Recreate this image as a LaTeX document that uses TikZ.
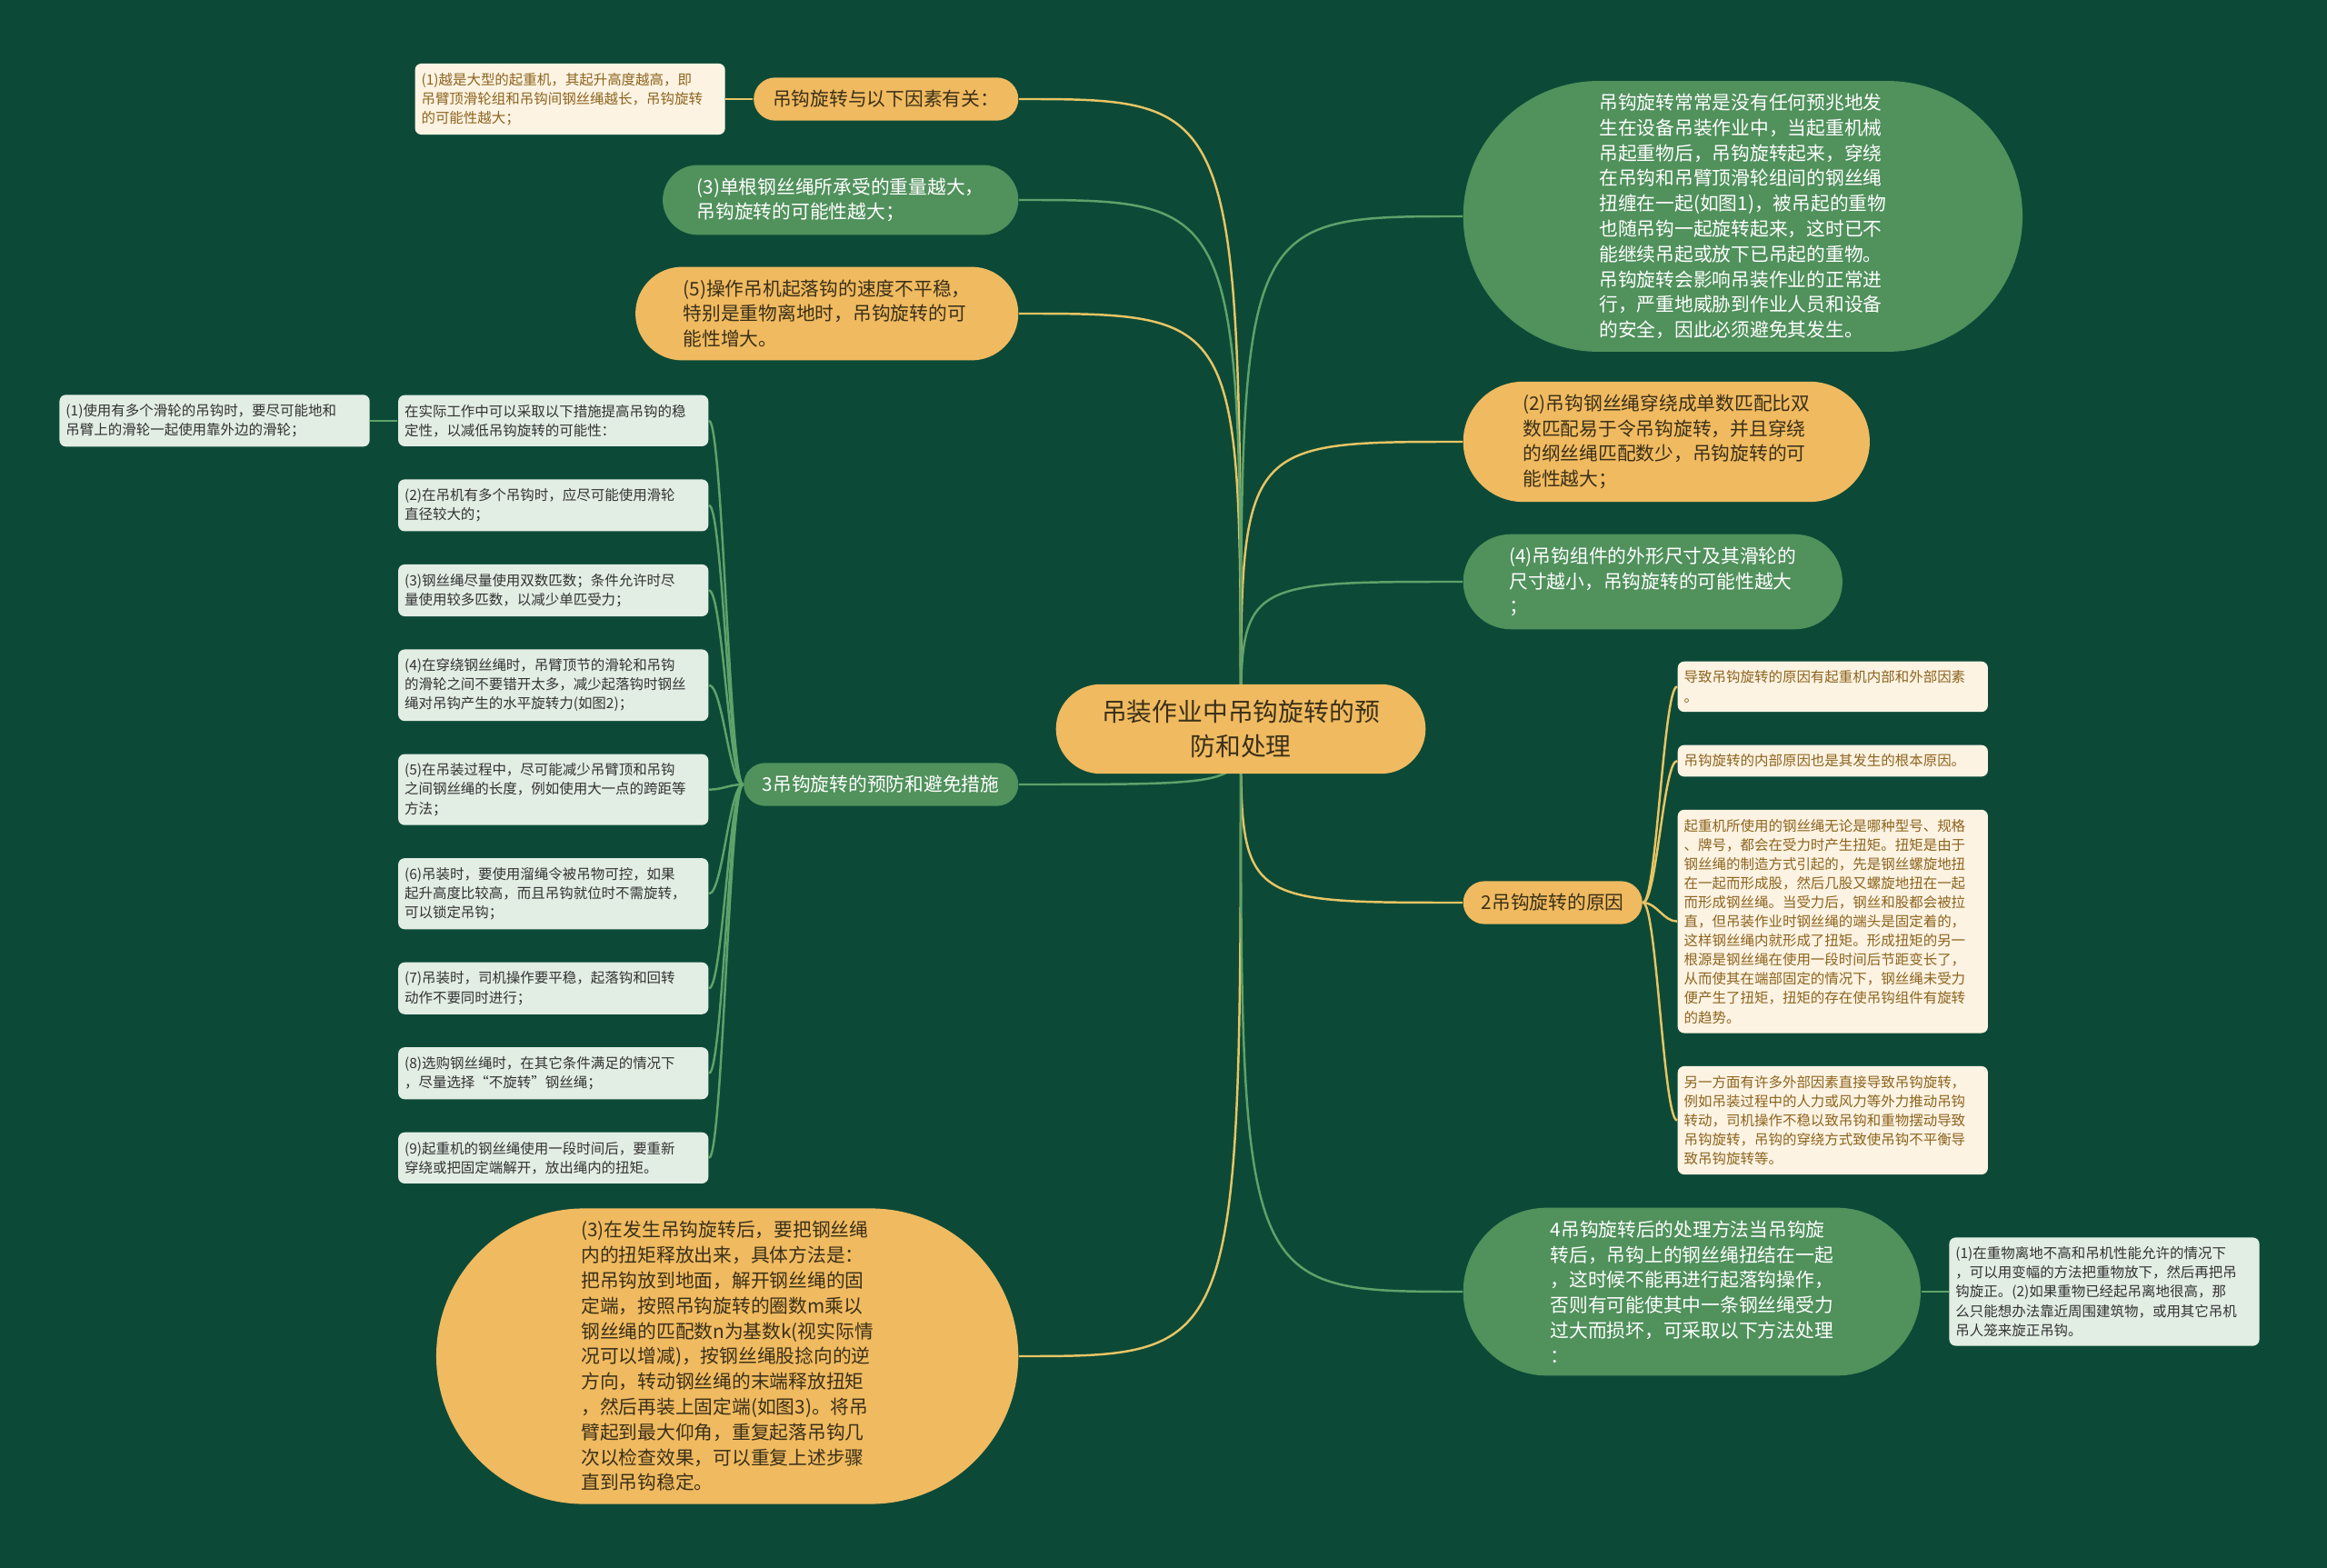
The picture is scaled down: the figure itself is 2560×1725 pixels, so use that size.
\documentclass[tikz,border=0pt]{standalone}
\usepackage{fontspec}
\newfontfamily\cjk{Noto Sans CJK SC}
\usepackage{tikz}
\usetikzlibrary{calc,positioning,shapes.misc,backgrounds}
\definecolor{bgdark}{HTML}{0C4A37}
\definecolor{topicorange}{HTML}{F0BA60}
\definecolor{topicgreen}{HTML}{50915C}
\definecolor{notecream}{HTML}{FDF3E3}
\definecolor{notebrown}{HTML}{8C641E}
\definecolor{notegreen}{HTML}{E2EDE4}
\definecolor{orangeline}{HTML}{E8C464}
\definecolor{greenline}{HTML}{5FA26A}
\definecolor{darktext}{HTML}{3A3018}
\tikzset{
  pill/.style={rounded rectangle, align=left, inner xsep=1pt, inner ysep=4pt,
    font=\cjk\fontsize{5.9pt}{7.9pt}\selectfont},
  opill/.style={pill, fill=topicorange, text=darktext},
  gpill/.style={pill, fill=topicgreen, text=white},
  rootpill/.style={rounded rectangle, fill=topicorange, text=darktext, align=center,
    minimum width=4.24cm, inner xsep=2.5pt, inner ysep=5pt,
    font=\cjk\fontsize{7.9pt}{10.7pt}\selectfont},
  note/.style={rounded corners=2pt, align=left, text width=3.27cm, inner xsep=0.07cm,
    inner ysep=2.9pt, font=\cjk\fontsize{4.4pt}{6pt}\selectfont},
  cnote/.style={note, fill=notecream, text=notebrown},
  gnote/.style={note, fill=notegreen, text=black!80},
  oarr/.style={draw=orangeline, line width=0.7pt},
  garr/.style={draw=greenline, line width=0.7pt}
}
\begin{document}
\begin{tikzpicture}[x=0.01cm, y=-0.01cm, node distance=0.35cm and 0.3cm]
  \useasboundingbox (0,0) rectangle (2560,1725);
  \node[rootpill] (root) at (1365,802) {吊装作业中吊钩旋转的预\\防和处理};

  \node[opill, anchor=east, minimum width=2.98cm] (cause) at (1121,109) {吊钩旋转与以下因素有关：};
  \node[cnote, left=of cause] (bigcrane) {(1)越是大型的起重机，其起升高度越高，即\\吊臂顶滑轮组和吊钩间钢丝绳越长，吊钩旋转\\的可能性越大；};
  \node[gpill, anchor=east, minimum width=3.98cm] (weight) at (1121,220) {(3)单根钢丝绳所承受的重量越大，\\吊钩旋转的可能性越大；};
  \node[opill, anchor=east, minimum width=4.28cm] (speed) at (1121,345) {(5)操作吊机起落钩的速度不平稳，\\特别是重物离地时，吊钩旋转的可\\能性增大。};
  \node[gpill, anchor=east, minimum width=3.09cm] (prevent) at (1121,863) {3吊钩旋转的预防和避免措施};

  \node[gnote, anchor=north east] (way) at (780,434) {在实际工作中可以采取以下措施提高吊钩的稳\\定性，以减低吊钩旋转的可能性：};
  \node[gnote, left=of way] (way1) {(1)使用有多个滑轮的吊钩时，要尽可能地和\\吊臂上的滑轮一起使用靠外边的滑轮；};
  \node[gnote, below=of way] (way2) {(2)在吊机有多个吊钩时，应尽可能使用滑轮\\直径较大的；};
  \node[gnote, below=of way2] (way3) {(3)钢丝绳尽量使用双数匹数；条件允许时尽\\量使用较多匹数，以减少单匹受力；};
  \node[gnote, below=of way3] (way4) {(4)在穿绕钢丝绳时，吊臂顶节的滑轮和吊钩\\的滑轮之间不要错开太多，减少起落钩时钢丝\\绳对吊钩产生的水平旋转力(如图2)；};
  \node[gnote, below=of way4] (way5) {(5)在吊装过程中，尽可能减少吊臂顶和吊钩\\之间钢丝绳的长度，例如使用大一点的跨距等\\方法；};
  \node[gnote, below=of way5] (way6) {(6)吊装时，要使用溜绳令被吊物可控，如果\\起升高度比较高，而且吊钩就位时不需旋转，\\可以锁定吊钩；};
  \node[gnote, below=of way6] (way7) {(7)吊装时，司机操作要平稳，起落钩和回转\\动作不要同时进行；};
  \node[gnote, below=of way7] (way8) {(8)选购钢丝绳时，在其它条件满足的情况下\\，尽量选择“不旋转”钢丝绳；};
  \node[gnote, below=of way8] (way9) {(9)起重机的钢丝绳使用一段时间后，要重新\\穿绕或把固定端解开，放出绳内的扭矩。};

  \node[opill, anchor=east, minimum width=6.47cm] (release) at (1121,1492) {(3)在发生吊钩旋转后，要把钢丝绳\\内的扭矩释放出来，具体方法是：\\把吊钩放到地面，解开钢丝绳的固\\定端，按照吊钩旋转的圈数m乘以\\钢丝绳的匹配数n为基数k(视实际情\\况可以增减)，按钢丝绳股捻向的逆\\方向，转动钢丝绳的末端释放扭矩\\，然后再装上固定端(如图3)。将吊\\臂起到最大仰角，重复起落吊钩几\\次以检查效果，可以重复上述步骤\\直到吊钩稳定。};

  \node[gpill, anchor=west, minimum width=6.22cm] (intro) at (1609,238) {吊钩旋转常常是没有任何预兆地发\\生在设备吊装作业中，当起重机械\\吊起重物后，吊钩旋转起来，穿绕\\在吊钩和吊臂顶滑轮组间的钢丝绳\\扭缠在一起(如图1)，被吊起的重物\\也随吊钩一起旋转起来，这时已不\\能继续吊起或放下已吊起的重物。\\吊钩旋转会影响吊装作业的正常进\\行，严重地威胁到作业人员和设备\\的安全，因此必须避免其发生。};
  \node[opill, anchor=west, minimum width=4.54cm] (oddfall) at (1609,486) {(2)吊钩钢丝绳穿绕成单数匹配比双\\数匹配易于令吊钩旋转，并且穿绕\\的纲丝绳匹配数少，吊钩旋转的可\\能性越大；};
  \node[gpill, anchor=west, minimum width=4.24cm] (hooksize) at (1609,640) {(4)吊钩组件的外形尺寸及其滑轮的\\尺寸越小，吊钩旋转的可能性越大\\；};
  \node[opill, anchor=west, minimum width=2.04cm] (reason) at (1609,993) {2吊钩旋转的原因};

  \node[cnote, anchor=north west] (why1) at (1845,727) {导致吊钩旋转的原因有起重机内部和外部因素\\。};
  \node[cnote, below=of why1] (why2) {吊钩旋转的内部原因也是其发生的根本原因。};
  \node[cnote, below=of why2] (why3) {起重机所使用的钢丝绳无论是哪种型号、规格\\、牌号，都会在受力时产生扭矩。扭矩是由于\\钢丝绳的制造方式引起的，先是钢丝螺旋地扭\\在一起而形成股，然后几股又螺旋地扭在一起\\而形成钢丝绳。当受力后，钢丝和股都会被拉\\直，但吊装作业时钢丝绳的端头是固定着的，\\这样钢丝绳内就形成了扭矩。形成扭矩的另一\\根源是钢丝绳在使用一段时间后节距变长了，\\从而使其在端部固定的情况下，钢丝绳未受力\\便产生了扭矩，扭矩的存在使吊钩组件有旋转\\的趋势。};
  \node[cnote, below=of why3] (why4) {另一方面有许多外部因素直接导致吊钩旋转，\\例如吊装过程中的人力或风力等外力推动吊钩\\转动，司机操作不稳以致吊钩和重物摆动导致\\吊钩旋转，吊钩的穿绕方式致使吊钩不平衡导\\致吊钩旋转等。};

  \node[gpill, anchor=west, minimum width=5.10cm] (handle) at (1609,1421) {4吊钩旋转后的处理方法当吊钩旋\\转后，吊钩上的钢丝绳扭结在一起\\，这时候不能再进行起落钩操作，\\否则有可能使其中一条钢丝绳受力\\过大而损坏，可采取以下方法处理\\：};
  \node[gnote, right=of handle] (fix) {(1)在重物离地不高和吊机性能允许的情况下\\，可以用变幅的方法把重物放下，然后再把吊\\钩旋正。(2)如果重物已经起吊离地很高，那\\么只能想办法靠近周围建筑物，或用其它吊机\\吊人笼来旋正吊钩。};

  \begin{scope}[on background layer]
    \fill[bgdark] (0,0) rectangle (2560,1725);
    \foreach \t in {cause,speed,release}
      \draw[oarr] (root.center) .. controls (root.center |- \t.east) .. (\t.east);
    \foreach \t in {weight,prevent}
      \draw[garr] (root.center) .. controls (root.center |- \t.east) .. (\t.east);
    \foreach \t in {oddfall,reason}
      \draw[oarr] (root.center) .. controls (root.center |- \t.west) .. (\t.west);
    \foreach \t in {intro,hooksize,handle}
      \draw[garr] (root.center) .. controls (root.center |- \t.west) .. (\t.west);
    \foreach \t in {way,way2,way3,way4,way5,way6,way7,way8,way9}
      \draw[garr] (prevent.west) .. controls +(-15,0) and +(15,0) .. (\t.east);
    \foreach \t in {why1,why2,why3,why4}
      \draw[oarr] (reason.east) .. controls +(15,0) and +(-15,0) .. (\t.west);
    \draw[oarr] (cause.west) -- (bigcrane.east);
    \draw[garr] (way.west) -- (way1.east);
    \draw[garr] (handle.east) -- (fix.west);
  \end{scope}
\end{tikzpicture}
\end{document}
